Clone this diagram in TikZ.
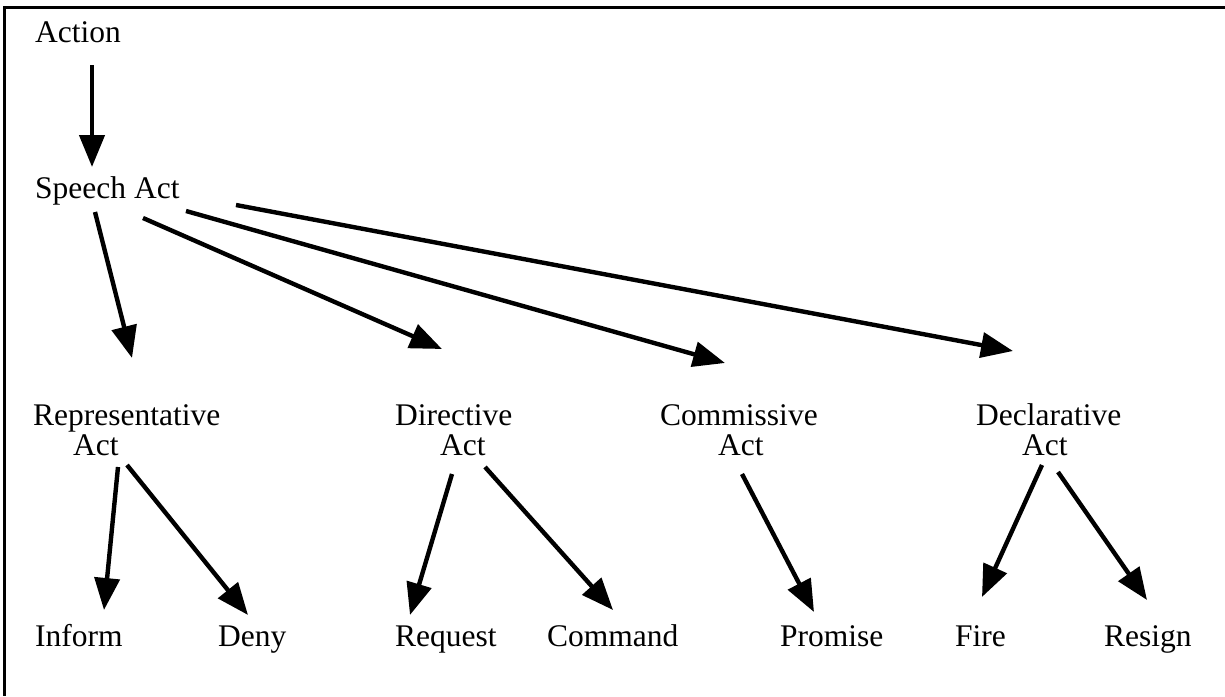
\documentclass[tikz,border=0pt]{standalone}
\usepackage{fontspec}
\setmainfont{Liberation Serif}
\usetikzlibrary{arrows.meta,calc}
\tikzset{
  lbl/.style={anchor=base west, inner sep=0pt, font=\fontsize{31.5}{36}\selectfont},
  arr/.style={line width=4.4pt, -{Triangle[length=32pt,width=25pt]}},
  frameline/.style={line width=3pt}
}
\begin{document}
\begin{tikzpicture}[x=1pt,y=-1pt]
\useasboundingbox (0,0) rectangle (1225,696);
\draw[frameline] (1225,7) -- (4,7) -- (4,696);

\node[lbl] (action) at (35,42) {Action};
\node[lbl] (speech) at (35,198) {Speech Act};
\node[lbl] (rep) at (33,425) {Representative};
\node[lbl] (repact) at (73,455) {Act};
\node[lbl] (dir) at (395,425) {Directive};
\node[lbl] (diract) at (440,455) {Act};
\node[lbl] (com) at (660,425) {Commissive};
\node[lbl] (comact) at (718,455) {Act};
\node[lbl] (dec) at (976,425) {Declarative};
\node[lbl] (decact) at (1022,455) {Act};
\node[lbl] (inform) at (35,646) {Inform};
\node[lbl] (deny) at (218,646) {Deny};
\node[lbl] (request) at (395,646) {Request};
\node[lbl] (command) at (547,646) {Command};
\node[lbl] (promise) at (780,646) {Promise};
\node[lbl] (fire) at (955,646) {Fire};
\node[lbl] (resign) at (1104,646) {Resign};

\draw[arr] ($(action.base west)+(57,23)$) -- ($(speech.base west)+(57,-31)$);
\draw[arr] ($(speech.base west)+(60,14)$) -- ($(rep.base west)+(99,-67)$);
\draw[arr] ($(speech.base west)+(108,20)$) -- ($(dir.base west)+(47,-76)$);
\draw[arr] ($(speech.base west)+(151,13)$) -- ($(com.base west)+(65,-62)$);
\draw[arr] ($(speech.base west)+(201,7)$) -- ($(dec.base west)+(37,-74)$);

\draw[arr] ($(repact.base west)+(45,12)$) -- ($(inform.base west)+(69,-36)$);
\draw[arr] ($(repact.base west)+(54,10)$) -- ($(deny.base west)+(30,-31)$);
\draw[arr] ($(diract.base west)+(12,19)$) -- ($(request.base west)+(15,-31)$);
\draw[arr] ($(diract.base west)+(45,12)$) -- ($(command.base west)+(66,-36)$);
\draw[arr] ($(comact.base west)+(24,19)$) -- ($(promise.base west)+(34,-34)$);
\draw[arr] ($(decact.base west)+(20,10)$) -- ($(fire.base west)+(27,-49)$);
\draw[arr] ($(decact.base west)+(36,17)$) -- ($(resign.base west)+(43,-46)$);
\end{tikzpicture}
\end{document}
